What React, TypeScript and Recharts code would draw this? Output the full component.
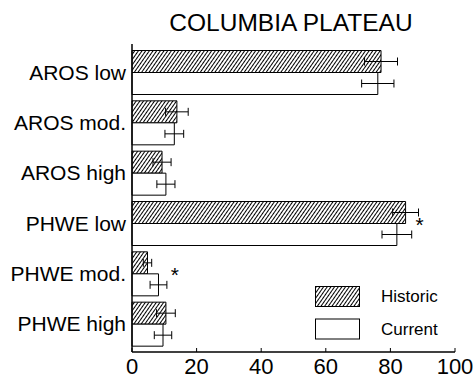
import React from 'react';
import { BarChart, Bar, XAxis, YAxis, ErrorBar, LabelList, Legend } from 'recharts';

const categories = ['AROS low', 'AROS mod.', 'AROS high', 'PHWE low', 'PHWE mod.', 'PHWE high'];
const historic = [77.1, 13.9, 9.3, 84.7, 4.8, 10.5];
const historicErr = [5.1, 3.5, 2.8, 4.0, 1.3, 2.9];
const current = [76.1, 13.1, 10.5, 82.0, 8.2, 9.6];
const currentErr = [5.0, 2.9, 2.8, 4.6, 2.6, 2.7];
const significance = ['', '', '', '*', '*', ''];
const xTicks = [0, 20, 40, 60, 80, 100];
const seriesNames = ['Historic', 'Current'];
const title = 'COLUMBIA PLATEAU';

const data = categories.map((c, i) => ({
  name: c,
  historic: historic[i],
  historicErr: historicErr[i],
  current: current[i],
  currentErr: currentErr[i],
  sig: significance[i],
}));

const FONT = '"Liberation Sans", Arial, Helvetica, sans-serif';

const SigLabel = (props: any) => {
  const { x, y, width, index } = props;
  const d = data[index];
  if (!d || !d.sig) return null;
  const end = Number(x) + Number(width) + (d.currentErr * Number(width)) / d.current;
  return (
    <text x={end + 8} y={Number(y) + 8} textAnchor="middle" fontSize={21} fontFamily={FONT} fill="#000">
      {d.sig}
    </text>
  );
};

const HatchPattern = ({ id }: { id: string }) => (
  <pattern id={id} patternUnits="userSpaceOnUse" width={3} height={3} patternTransform="rotate(35)">
    <line x1={1.5} y1={0} x2={1.5} y2={3} stroke="#000" strokeWidth={1} />
  </pattern>
);

const LegendContent = (props: any) => {
  const payload = [...(props.payload || [])].sort(
    (a: any, b: any) => seriesNames.indexOf(a.value) - seriesNames.indexOf(b.value)
  );
  return (
    <svg width={140} height={56} style={{ display: 'block' }}>
      <defs>
        <HatchPattern id="hatchLegend" />
      </defs>
      {payload.map((p: any, i: number) => (
        <g key={i}>
          <rect
            x={0.5}
            y={0.5 + i * 32.5}
            width={44}
            height={20}
            fill={p.value === 'Historic' ? 'url(#hatchLegend)' : '#fff'}
            stroke="#000"
            strokeWidth={1}
          />
          <text x={66} y={16 + i * 33} fontSize={17} fontFamily={FONT} fill="#000">
            {p.value}
          </text>
        </g>
      ))}
    </svg>
  );
};

export default function App() {
  return (
    <div style={{ position: 'absolute', left: 0, top: 0, width: 476, height: 381, background: '#fff' }}>
      <svg width={476} height={40} style={{ position: 'absolute', left: 0, top: 0 }}>
        <text x={291} y={31} textAnchor="middle" fontSize={24.5} fontFamily={FONT} fill="#000">
          {title}
        </text>
      </svg>
      <BarChart
        width={476}
        height={381}
        data={data}
        layout="vertical"
        margin={{ top: 44, right: 21, bottom: 0, left: 0 }}
        barCategoryGap={3.5}
        barGap={0}
      >
        <defs>
          <HatchPattern id="hatch" />
        </defs>
        <XAxis
          xAxisId="bottom"
          type="number"
          domain={[0, 100]}
          ticks={xTicks}
          interval={0}
          orientation="bottom"
          height={29}
          tickSize={-4}
          tickMargin={10}
          axisLine={{ stroke: '#000', strokeWidth: 1.5 }}
          tickLine={{ stroke: '#000' }}
          tick={{ fill: '#000', fontSize: 22, fontFamily: FONT }}
        />
        <XAxis
          xAxisId="top"
          type="number"
          domain={[0, 100]}
          ticks={xTicks}
          interval={0}
          orientation="top"
          height={0}
          tickSize={-4}
          axisLine={{ stroke: '#000', strokeWidth: 1.5 }}
          tickLine={{ stroke: '#000' }}
          tick={false}
        />
        <YAxis
          yAxisId="left"
          type="category"
          dataKey="name"
          width={132}
          tickLine={false}
          tickSize={0}
          tickMargin={6}
          padding={{ top: 3, bottom: 3 }}
          interval={0}
          axisLine={{ stroke: '#000', strokeWidth: 1.5 }}
          tick={{ fill: '#000', fontSize: 21, fontFamily: FONT }}
        />
        <YAxis
          yAxisId="right"
          type="category"
          dataKey="name"
          orientation="right"
          width={0}
          tickSize={-5}
          padding={{ top: 3, bottom: 3 }}
          interval={0}
          axisLine={{ stroke: '#000', strokeWidth: 1.5 }}
          tickLine={{ stroke: '#000' }}
          tick={false}
        />
        <Legend
          layout="horizontal"
          verticalAlign="middle"
          align="center"
          wrapperStyle={{ position: 'absolute', left: 315, top: 286, width: 140, height: 56 }}
          content={LegendContent}
        />
        <Bar
          dataKey="historic"
          name="Historic"
          xAxisId="bottom"
          yAxisId="left"
          fill="url(#hatch)"
          stroke="#000"
          strokeWidth={1}
          isAnimationActive={false}
        >
          <ErrorBar dataKey="historicErr" direction="x" width={4} stroke="#000" strokeWidth={1} />
        </Bar>
        <Bar
          dataKey="current"
          name="Current"
          xAxisId="bottom"
          yAxisId="left"
          fill="#fff"
          stroke="#000"
          strokeWidth={1}
          isAnimationActive={false}
        >
          <ErrorBar dataKey="currentErr" direction="x" width={4} stroke="#000" strokeWidth={1} />
          <LabelList dataKey="sig" content={SigLabel} />
        </Bar>
      </BarChart>
    </div>
  );
}
